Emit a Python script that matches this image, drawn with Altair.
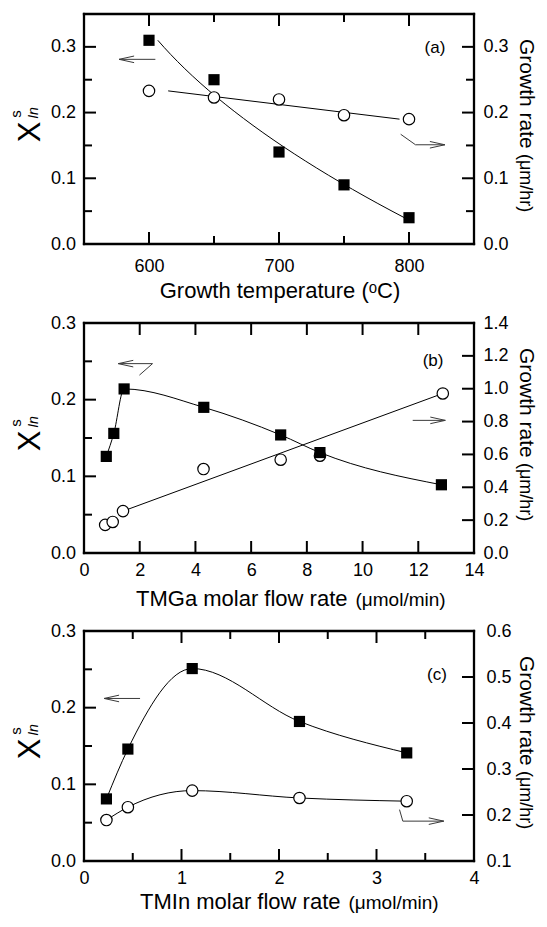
import altair as alt
import pandas as pd

FONT = "Liberation Sans"
W, H = 390, 230
ARROW = "#3a3a3a"
HEAD_LEFT = "M 1 -0.22 L 0 0 L 1 0.22"
HEAD_RIGHT = "M -1 -0.22 L 0 0 L -1 0.22"
MAJ, MIN = 12, 8   # inward tick lengths (px)
FW = 1.15          # half width of the frame line (px)

# ---------------- data ----------------
# (a) growth temperature
a_x = [600, 650, 700, 750, 800]
a_xs = [0.310, 0.250, 0.140, 0.090, 0.040]       # X^s_In (squares)
a_gr = [0.233, 0.223, 0.220, 0.196, 0.190]       # growth rate (circles)

# (b) TMGa molar flow rate
b_sq_x = [0.80, 1.07, 1.44, 4.30, 7.06, 8.47, 12.83]
b_xs = [0.126, 0.156, 0.214, 0.190, 0.154, 0.131, 0.089]
b_ci_x = [0.76, 1.03, 1.40, 4.29, 7.06, 8.47, 12.88]
b_gr = [0.171, 0.189, 0.255, 0.511, 0.568, 0.592, 0.971]

# (c) TMIn molar flow rate
c_x = [0.23, 0.45, 1.11, 2.21, 3.31]
c_xs = [0.081, 0.146, 0.251, 0.182, 0.141]
c_gr = [0.189, 0.217, 0.253, 0.237, 0.230]

# annotation arrows (data units of the left axis)
a_arrow1 = ([604.9, 577.0], [0.281, 0.281], "left")
a_arrow2 = ([793.6, 805.0, 827.6], [0.167, 0.151, 0.151], "right")
b_arrow1 = ([1.99, 2.46, 1.23], [0.232, 0.247, 0.247], "left")
b_arrow2 = ([11.80, 12.97], [0.173, 0.173], "right")
c_arrow1 = ([0.575, 0.206], [0.212, 0.212], "left")
c_arrow2 = ([3.236, 3.27, 3.69], [0.067, 0.052, 0.052], "right")

# panel tags
a_tag = ("(a)", 820, 0.298)
b_tag = ("(b)", 12.53, 0.251)
c_tag = ("(c)", 3.62, 0.243)


def lab_axis(orient, values, fmt, pad):
    return alt.Axis(orient=orient, values=values, format=fmt, ticks=False, tickSize=0,
                    domain=False, grid=False, labelPadding=pad, labelFont=FONT,
                    labelFontSize=18, labelColor="black", labelFlush=False,
                    labelOverlap=False, title=None)


def one_row():
    return pd.DataFrame({"k": [0]})


def text_layer(text, x, y, size, angle=0, align="center", baseline="alphabetic", style="normal"):
    kw = dict(font=FONT, fontSize=size, align=align, baseline=baseline,
              fontStyle=style, color="black")
    if angle:
        kw["angle"] = angle
    return alt.Chart(pd.DataFrame({"t": [text]})).mark_text(**kw).encode(
        x=alt.value(x), y=alt.value(y), text="t:N")


def make_panel(p):
    xs = alt.Scale(domain=p["xdom"], nice=False, zero=False)
    yl = alt.Scale(domain=p["yldom"], nice=False, zero=False)
    yr = alt.Scale(domain=p["yrdom"], nice=False, zero=False)
    sq = pd.DataFrame({"x": p["sq_x"], "y": p["sq_y"]})
    ci = pd.DataFrame({"x": p["ci_x"], "y": p["ci_y"]})

    def curve(df, ys, kind, ends=None):
        base = alt.Chart(df)
        if kind == "poly2":
            base = base.transform_regression("y", "x", method="poly", order=2)
            mk = base.mark_line(color="black", strokeWidth=1)
        elif kind == "linear":
            base = base.transform_regression("y", "x")
            mk = base.mark_line(color="black", strokeWidth=1)
        elif kind == "ends":
            base = base.transform_filter(alt.FieldOneOfPredicate(field="x", oneOf=ends))
            mk = base.mark_line(color="black", strokeWidth=1)
        else:
            mk = base.mark_line(color="black", strokeWidth=1, interpolate="monotone")
        return mk.encode(x=alt.X("x:Q", scale=xs, axis=None),
                         y=alt.Y("y:Q", scale=ys, axis=None))

    layers = []

    # plot frame as four filled bars
    for (x_a, x_b, y_a, y_b) in [(-FW, W + FW, -FW, FW), (-FW, W + FW, H - FW, H + FW),
                                 (-FW, FW, -FW, H + FW), (W - FW, W + FW, -FW, H + FW)]:
        layers.append(alt.Chart(one_row()).mark_rect(color="black", opacity=1).encode(
            x=alt.value(x_a), x2=alt.value(x_b), y=alt.value(y_a), y2=alt.value(y_b)))

    # inward ticks on all four sides (positions through the scales)
    def ticks(values, side, length, scale=None):
        if not values:
            return []
        df = pd.DataFrame({"v": values})
        if side in ("bottom", "top"):
            return [alt.Chart(df).mark_tick(orient="vertical", thickness=2, size=length,
                                            color="black", opacity=1).encode(
                x=alt.X("v:Q", scale=xs, axis=None),
                y=alt.value(H - length / 2 if side == "bottom" else length / 2))]
        return [alt.Chart(df).mark_tick(orient="horizontal", thickness=2, size=length,
                                        color="black", opacity=1).encode(
            y=alt.Y("v:Q", scale=scale, axis=None),
            x=alt.value(length / 2 if side == "left" else W - length / 2))]

    for side in ("bottom", "top"):
        layers += ticks(p["xmaj"], side, MAJ) + ticks(p["xmin"], side, MIN)
    layers += ticks(p["ylmaj"], "left", MAJ, yl) + ticks(p["ylmin"], "left", MIN, yl)
    layers += ticks(p["yrmaj"], "right", MAJ, yr) + ticks(p["yrmin"], "right", MIN, yr)

    layers.append(curve(sq, yl, p["sq_fit"]))
    layers.append(curve(ci, yr, p["ci_fit"], p.get("ci_ends")))

    layers.append(alt.Chart(ci).mark_point(shape="circle", filled=True, fill="white",
                                           stroke="black", strokeWidth=1.2, size=130,
                                           opacity=1).encode(
        x=alt.X("x:Q", scale=xs, axis=None),
        y=alt.Y("y:Q", scale=yr, axis=lab_axis("right", p["yr_lab"], ".1f", p["rpad"]))))
    layers.append(alt.Chart(sq).mark_square(size=125, color="black", opacity=1).encode(
        x=alt.X("x:Q", scale=xs, axis=lab_axis("bottom", p["x_lab"], "d", p["xpad"])),
        y=alt.Y("y:Q", scale=yl, axis=lab_axis("left", p["yl_lab"], ".1f", 8.5))))

    # arrows
    for ax_, ay_, direction in p["arrows"]:
        df = pd.DataFrame({"x": ax_, "y": ay_, "o": list(range(len(ax_)))})
        layers.append(alt.Chart(df).mark_line(color=ARROW, strokeWidth=1).encode(
            x=alt.X("x:Q", scale=xs, axis=None),
            y=alt.Y("y:Q", scale=yl, axis=None),
            order="o:Q"))
        tip = df.iloc[[-1]]
        layers.append(alt.Chart(tip).mark_point(
            shape=HEAD_LEFT if direction == "left" else HEAD_RIGHT,
            filled=False, stroke=ARROW, strokeWidth=1, size=900, opacity=1).encode(
            x=alt.X("x:Q", scale=xs, axis=None),
            y=alt.Y("y:Q", scale=yl, axis=None)))

    # panel tag
    tag, tx, ty = p["tag"]
    layers.append(alt.Chart(pd.DataFrame({"t": [tag], "x": [tx], "y": [ty]})).mark_text(
        font=FONT, fontSize=17, baseline="middle", align="center", color="black").encode(
        x=alt.X("x:Q", scale=xs, axis=None),
        y=alt.Y("y:Q", scale=yl, axis=None), text="t:N"))

    # left title  X^s_In
    layers.append(text_layer("X", -44, 118, 31, angle=270))
    layers.append(text_layer("s", -63.5, 100, 15, angle=270))
    layers.append(text_layer("In", -46, 99, 14, angle=270, style="italic"))
    # right title
    layers.append(text_layer("Growth rate", W + 46, 25, 21, angle=90, align="left"))
    layers.append(text_layer("(\u03bcm/hr)", W + 46, 140, 18, angle=90, align="left"))
    # x title pieces
    for t_ in p["xtitle"]:
        layers.append(text_layer(*t_))

    return alt.layer(*layers).resolve_scale(x="independent", y="independent").resolve_axis(
        x="independent", y="independent").properties(width=W, height=H)


XB = H + 52.5
pa = make_panel(dict(
    xdom=[550, 850], yldom=[0, 0.35], yrdom=[0, 0.35],
    sq_x=a_x, sq_y=a_xs, ci_x=a_x, ci_y=a_gr,
    sq_fit="poly2", ci_fit="linear",
    x_lab=[600, 700, 800], yl_lab=[0.0, 0.1, 0.2, 0.3], yr_lab=[0.0, 0.1, 0.2, 0.3],
    xmaj=[600, 700, 800], xmin=[650, 750],
    ylmaj=[0.1, 0.2, 0.3], ylmin=[0.05, 0.15, 0.25],
    yrmaj=[0.1, 0.2, 0.3], yrmin=[0.05, 0.15, 0.25],
    xpad=13.5, rpad=9, arrows=[a_arrow1, a_arrow2], tag=a_tag,
    xtitle=[("Growth temperature (\u1d52C)", 196, H + 54, 22, 0, "center")]))

pb = make_panel(dict(
    xdom=[0, 14], yldom=[0, 0.3], yrdom=[0, 1.4],
    sq_x=b_sq_x, sq_y=b_xs, ci_x=b_ci_x, ci_y=b_gr,
    sq_fit="monotone", ci_fit="ends", ci_ends=[b_ci_x[2], b_ci_x[6]],
    x_lab=[0, 2, 4, 6, 8, 10, 12, 14], yl_lab=[0.0, 0.1, 0.2, 0.3],
    yr_lab=[0.0, 0.2, 0.4, 0.6, 0.8, 1.0, 1.2, 1.4],
    xmaj=[2, 4, 6, 8, 10, 12], xmin=[],
    ylmaj=[0.1, 0.2], ylmin=[0.05, 0.15, 0.25],
    yrmaj=[0.2, 0.4, 0.6, 0.8, 1.0, 1.2], yrmin=[],
    xpad=8.5, rpad=9, arrows=[b_arrow1, b_arrow2], tag=b_tag,
    xtitle=[("TMGa molar flow rate", 52, XB, 22, 0, "left"),
            ("(\u03bcmol/min)", 271.5, XB, 19, 0, "left")]))

pc = make_panel(dict(
    xdom=[0, 4], yldom=[0, 0.3], yrdom=[0.1, 0.6],
    sq_x=c_x, sq_y=c_xs, ci_x=c_x, ci_y=c_gr,
    sq_fit="monotone", ci_fit="monotone",
    x_lab=[0, 1, 2, 3, 4], yl_lab=[0.0, 0.1, 0.2, 0.3],
    yr_lab=[0.1, 0.2, 0.3, 0.4, 0.5, 0.6],
    xmaj=[1, 2, 3], xmin=[0.5, 1.5, 2.5, 3.5],
    ylmaj=[0.1, 0.2], ylmin=[0.05, 0.15, 0.25],
    yrmaj=[0.2, 0.3, 0.4, 0.5], yrmin=[],
    xpad=8.5, rpad=12, arrows=[c_arrow1, c_arrow2], tag=c_tag,
    xtitle=[("TMIn molar flow rate", 56, H + 48, 22, 0, "left"),
            ("(\u03bcmol/min)", 264.5, H + 48, 19, 0, "left")]))

chart = alt.vconcat(pa, pb, pc, spacing=12).properties(
    padding={"left": 0, "top": 4, "right": 0, "bottom": 0},
    background="white"
).configure_view(stroke=None)

chart.save("out.html", embed_options={"renderer": "svg", "actions": False})
